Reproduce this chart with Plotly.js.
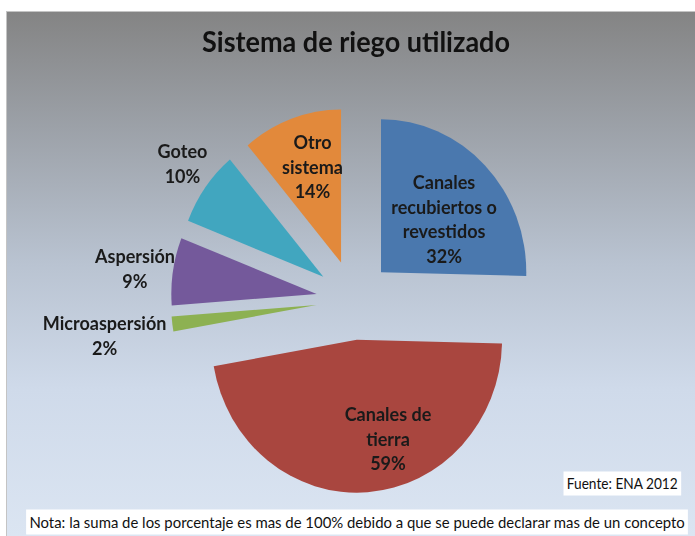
<!DOCTYPE html>
<html><head><meta charset="utf-8">
<script src="https://cdn.plot.ly/plotly-3.0.1.min.js"></script>
<style>
html,body{margin:0;padding:0;background:#fff;}
#wrap{position:relative;width:695px;height:536px;overflow:hidden;}
#bg{position:absolute;left:6px;top:11px;right:0;bottom:0;border-left:1px solid #c4c4c4;border-top:1px solid #c4c4c4;background:linear-gradient(180deg,#848484 0%,#9ca1a8 22%,#b9c3d1 48%,#cfdaea 72%,#dbe5f2 100%);}
#chart{position:absolute;left:0;top:0;width:732px;height:536px;transform-origin:0 0;}
</style></head><body>
<div id="wrap"><div id="bg"></div><div id="chart"></div></div>
<script>
const categories = ['Canales recubiertos o revestidos','Canales de tierra','Microaspersión','Aspersión','Goteo','Otro sistema'];
const displayLabels = ['Canales<br>recubiertos o<br>revestidos','Canales de<br>tierra','Microaspersión','Aspersión','Goteo','Otro<br>sistema'];
const percentValues = [32,59,2,9,10,14];
const sliceColors = ['#4a78ae','#a9463f','#8db152','#74599b','#41a6bf','#e2893b'];
const titleText = 'Sistema de riego utilizado';
const sourceText = 'Fuente: ENA 2012';
const noteText = 'Nota: la suma de los porcentaje es mas de 100% debido a que se puede declarar mas de un concepto';

const FONT = 'Lato, "Open Sans", sans-serif';
const W = 732, H = 536;          // plot drawn at this size, then squeezed horizontally to 695
const S = 695 / W;               // horizontal squeeze (reference is slightly condensed)

// label anchor points in screen pixels (layout, not data)
const labelSpots = [[444,219],[388,438],[104,335],[134,268],[183,163],[312,166]];
const px = (x) => (x / S) / W;
const py = (y) => 1 - y / H;

const trace = {
  type: 'pie',
  labels: categories,
  values: percentValues,
  text: displayLabels,
  textinfo: 'none',
  sort: false,
  direction: 'clockwise',
  rotation: 0,
  pull: 0.26,
  marker: {colors: sliceColors, line: {width: 0}},
  domain: {x: [0.2459, 0.7727], y: [0.0806, 0.8]},
  showlegend: false,
  hoverinfo: 'label+value'
};

const labelAnnotations = categories.map((c, i) => ({
  text: '<b>' + displayLabels[i] + '<br>' + percentValues[i] + '%</b>',
  xref: 'paper', yref: 'paper',
  x: px(labelSpots[i][0]), y: py(labelSpots[i][1]),
  xanchor: 'center', yanchor: 'middle', align: 'center',
  showarrow: false,
  font: {family: FONT, size: 19, color: '#1a1a1a'}
}));

const layout = {
  width: W, height: H,
  margin: {l: 0, r: 0, t: 0, b: 0},
  paper_bgcolor: 'rgba(0,0,0,0)',
  plot_bgcolor: 'rgba(0,0,0,0)',
  title: {text: titleText, x: px(356), xanchor: 'center', y: 0.922, yanchor: 'middle',
          font: {family: FONT, size: 28.5, color: '#111', weight: 'bold'}},
  annotations: labelAnnotations.concat([
    {text: sourceText, xref: 'paper', yref: 'paper', x: px(622), y: py(483), xanchor: 'center', yanchor: 'middle',
     showarrow: false, bgcolor: '#ffffff', borderpad: 3, font: {family: FONT, size: 14.4, color: '#111'}},
    {text: noteText, xref: 'paper', yref: 'paper', x: px(357), y: py(522), xanchor: 'center', yanchor: 'middle',
     showarrow: false, bgcolor: '#ffffff', borderpad: 3, font: {family: FONT, size: 15.7, color: '#111'}}
  ])
};

Plotly.newPlot('chart', [trace], layout, {displayModeBar: false, staticPlot: true}).then(() => {
  document.getElementById('chart').style.transform = 'scaleX(' + S + ')';
});
</script>
</body></html>
